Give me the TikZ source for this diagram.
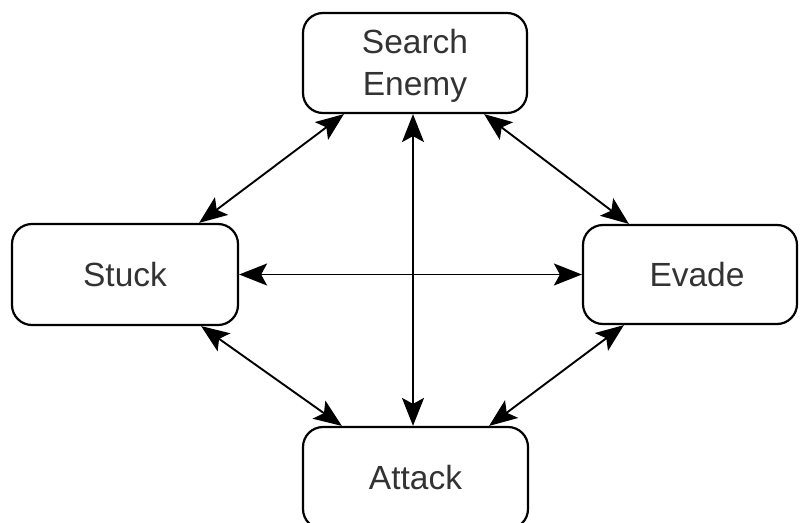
\documentclass[tikz,border=0pt]{standalone}
\usepackage{fontspec}
\setmainfont{Liberation Sans}
\usetikzlibrary{arrows.meta}
\begin{document}
\begin{tikzpicture}[x=1pt,y=-1pt,
  state/.style={draw=black, line width=2.2pt, rounded corners=20pt, fill=white,
    text=black!80, font=\fontsize{33.5}{42}\selectfont, align=center, inner sep=0pt},
  link/.style={line width=1.9pt, {Stealth[length=28pt,width=22pt,inset=6pt]}-{Stealth[length=28pt,width=22pt,inset=6pt]}}]
\useasboundingbox (0,0) rectangle (800,522);
\clip (0,0) rectangle (800,522);
% states
\node[state, minimum width=224pt, minimum height=100pt] (se) at (415,63)
  {\rule{0pt}{30pt}Search\\Enemy};
\node[state, minimum width=226pt, minimum height=101pt] (st) at (125,274.5) {Stuck};
\node[state, minimum width=214pt, minimum height=99pt] (ev) at (690,274.5) {\hspace*{14pt}Evade};
\node[state, minimum width=225pt, minimum height=102pt] (at) at (415.5,478) {Attack};
% transitions
\draw[link] ([xshift=42pt]se.south west) -- ([xshift=-40pt]st.north east);
\draw[link] ([xshift=-44pt]se.south east) -- ([xshift=47pt]ev.north west);
\draw[link] ([xshift=-38pt]st.south east) -- ([xshift=40pt]at.north west);
\draw[link] ([xshift=42pt]ev.south west) -- ([xshift=-40pt]at.north east);
\draw[link] ([xshift=-2pt]se.south) -- ([xshift=-2.5pt]at.north);
\draw[link] (st.east) -- (ev.west);
\end{tikzpicture}
\end{document}
